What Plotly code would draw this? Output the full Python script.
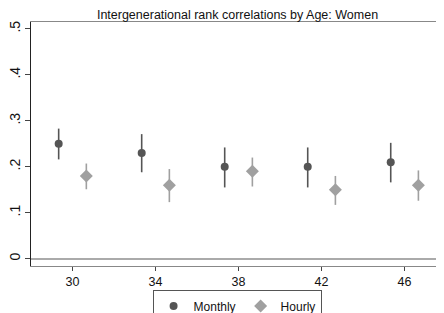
import plotly.graph_objects as go

ages = [30, 34, 38, 42, 46]
monthly = [0.25, 0.23, 0.20, 0.20, 0.21]
monthly_lo = [0.216, 0.188, 0.155, 0.155, 0.166]
monthly_hi = [0.283, 0.271, 0.242, 0.242, 0.252]
hourly = [0.18, 0.16, 0.19, 0.15, 0.16]
hourly_lo = [0.151, 0.123, 0.157, 0.117, 0.126]
hourly_hi = [0.207, 0.195, 0.220, 0.180, 0.192]
offset = 2 / 3
y_ticks = [0, 0.1, 0.2, 0.3, 0.4, 0.5]
y_labels = ["0", ".1", ".2", ".3", ".4", ".5"]

fig = go.Figure()
fig.add_trace(go.Scatter(
    x=[a - offset for a in ages], y=monthly, mode="markers", name="Monthly",
    marker=dict(symbol="circle", size=8, color="#555555"),
    error_y=dict(type="data", symmetric=False,
                 array=[h - m for h, m in zip(monthly_hi, monthly)],
                 arrayminus=[m - l for m, l in zip(monthly, monthly_lo)],
                 width=0, thickness=1.6, color="#555555"),
))
fig.add_trace(go.Scatter(
    x=[a + offset for a in ages], y=hourly, mode="markers", name="Hourly",
    marker=dict(symbol="diamond", size=10, color="#a0a0a0"),
    error_y=dict(type="data", symmetric=False,
                 array=[h - m for h, m in zip(hourly_hi, hourly)],
                 arrayminus=[m - l for m, l in zip(hourly, hourly_lo)],
                 width=0, thickness=1.6, color="#a0a0a0"),
))

# the page adds an 8px body margin, so the figure is 8px smaller than the window
fig.update_layout(
    width=436, height=305,
    margin=dict(l=23, r=0, t=14, b=47, autoexpand=False),
    paper_bgcolor="white", plot_bgcolor="white",
    font=dict(family="Liberation Sans, Arial, sans-serif", color="#111111", size=12),
    title=dict(text="Intergenerational rank correlations by Age: Women",
               x=0.5, xref="paper", xanchor="center",
               y=1 - 6.5 / 305, yref="container", yanchor="middle",
               font=dict(size=12.5, color="#111111")),
    showlegend=True,
    legend=dict(orientation="h", x=0.499, xanchor="center", y=-0.1, yanchor="top",
                bordercolor="#555555", borderwidth=1, bgcolor="white",
                font=dict(size=12), itemwidth=30, tracegroupgap=0),
    xaxis=dict(range=[28, 47.9], tickvals=ages, ticks="outside", ticklen=4,
               tickcolor="#444444", showline=True, linecolor="#888888", linewidth=1.2,
               mirror=True, showgrid=False, zeroline=False, automargin=False,
               tickfont=dict(size=12.5)),
    yaxis=dict(range=[-0.016, 0.515], tickvals=y_ticks, ticktext=y_labels,
               ticks="outside", ticklen=5, tickcolor="#444444", tickangle=-90,
               ticklabelstandoff=-1,
               showline=True, linecolor="#222222", linewidth=1.2, automargin=False,
               showgrid=False, zeroline=True, zerolinecolor="#aaaaaa",
               zerolinewidth=2, tickfont=dict(size=14)),
)

fig.write_html("out.html")
